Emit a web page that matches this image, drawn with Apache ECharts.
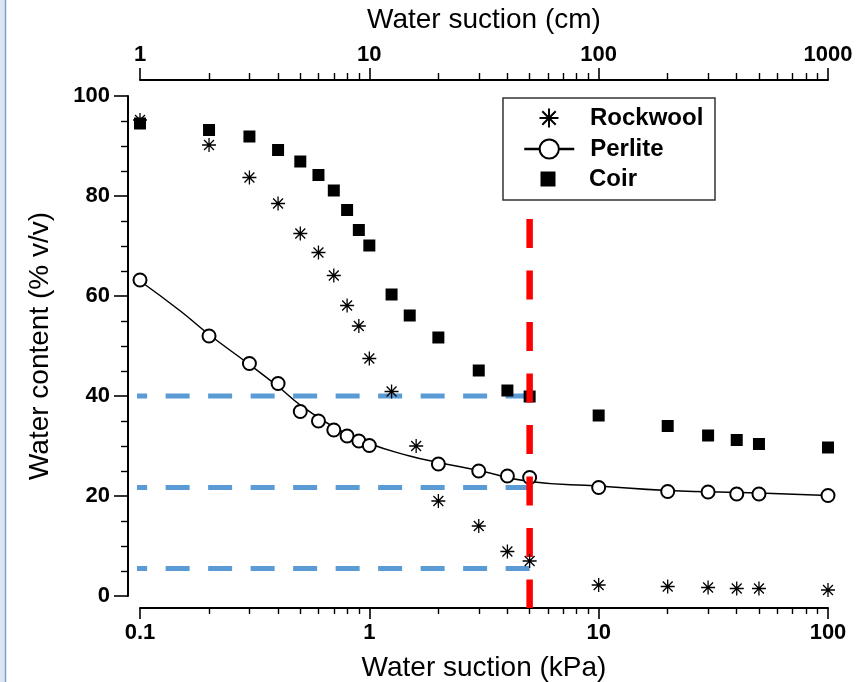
<!DOCTYPE html>
<html><head><meta charset="utf-8">
<script src="https://cdn.jsdelivr.net/npm/echarts@6/dist/echarts.min.js"></script>
<style>html,body{margin:0;padding:0;background:#fff}#c{width:866px;height:682px}</style>
</head><body><div id="c"></div>
<script>
// ---- data ----
const perliteX = [0.1,0.2,0.3,0.4,0.5,0.6,0.7,0.8,0.9,1,2,3,4,5,10,20,30,40,50,100];
const perliteY = [63.2,52,46.5,42.5,36.9,35,33.2,32,31,30.1,26.4,25,24,23.7,21.7,20.9,20.8,20.4,20.4,20.1];
// fitted curve drawn through the perlite points
const perliteFitX = [0.1,0.15,0.2,0.3,0.4,0.5,0.7,1,1.5,2,3,5,10,20,50,100];
const perliteFitY = [63,57,52.3,46.3,41.9,38.2,33.8,30.5,28,26.7,25.1,22.9,22,21.1,20.6,20.1];
const rockwoolX = [0.1,0.2,0.3,0.4,0.5,0.6,0.7,0.8,0.9,1,1.25,1.6,2,3,4,5,10,20,30,40,50,100];
const rockwoolY = [95.2,90.2,83.7,78.5,72.5,68.7,64.1,58.1,54,47.5,40.9,30,19,14,8.9,7,2.2,1.9,1.7,1.5,1.5,1.2];
const coirX = [0.1,0.2,0.3,0.4,0.5,0.6,0.7,0.8,0.9,1,1.25,1.5,2,3,4,5,10,20,30,40,50,100];
const coirY = [94.5,93.2,91.9,89.2,86.9,84.2,81.1,77.2,73.2,70.1,60.3,56.1,51.7,45.1,41.1,39.9,36.1,34,32.1,31.2,30.4,29.7];
const kPaMajor = [0.1,1,10,100];
const kPaMinor = [0.2,0.3,0.4,0.5,0.6,0.7,0.8,0.9,2,3,4,5,6,7,8,9,20,30,40,50,60,70,80,90];
const cmMajor = [1,10,100,1000];
const cmMinor = [2,3,4,5,6,7,8,9,20,30,40,50,60,70,80,90,200,300,400,500,600,700,800,900];
const refLevels = [40, 21.7, 5.5];        // blue dashed horizontal levels
const refLineX = [5, 0.095];              // from 5 kPa back to left edge
const vLineX = 5;                         // red dashed vertical (kPa)
const vLineY = [75.4, -2.4];
const names = ['Rockwool','Perlite','Coir'];

const FONT = '"Liberation Sans", Arial, sans-serif';
const asterisk = 'path://M0,-10L0,10M-10,0L10,0M-7.07,-7.07L7.07,7.07M-7.07,7.07L7.07,-7.07';
const square = 'path://M0,0L10,0L10,10L0,10Z';
const zip = (xs, ys) => xs.map((x, i) => [x, ys[i]]);

const chart = echarts.init(document.getElementById('c'), null, {renderer: 'canvas'});

function xAx(pos, min, max, offset, major, minor, name, majorLen, minorLen, nameGap) {
  const base = {
    type: 'log', logBase: 10, position: pos, min: min, max: max, offset: offset,
    splitLine: {show: false}, minorSplitLine: {show: false}
  };
  const a = Object.assign({}, base, {
    axisLine: {show: true, onZero: false, lineStyle: {color: '#000', width: 2}},
    axisTick: {show: true, inside: false, length: majorLen, customValues: major, lineStyle: {color: '#000', width: 1.6}},
    axisLabel: {show: true, customValues: major, margin: 14, fontSize: 22, fontWeight: 'bold', color: '#000', fontFamily: FONT,
      formatter: v => String(v)},
    name: name, nameLocation: 'middle', nameGap: nameGap,
    nameTextStyle: {fontSize: 28, color: '#000', fontFamily: FONT, fontWeight: 'normal'}
  });
  const b = Object.assign({}, base, {
    axisLine: {show: false, onZero: false},
    axisTick: {show: true, inside: false, length: minorLen, customValues: minor, lineStyle: {color: '#000', width: 1.4}},
    axisLabel: {show: false}
  });
  return [a, b];
}

const xAxes = [].concat(
  xAx('bottom', 0.1, 100, 12, kPaMajor, kPaMinor, 'Water suction (kPa)', 11, 6, 46),
  xAx('top', 1, 1000, 16, cmMajor, cmMinor, 'Water suction (cm)', 12, 7, 46)
);

const series = [];
refLevels.forEach((lv, i) => {
  series.push({
    type: 'line', name: 'ref' + i, xAxisIndex: 0, yAxisIndex: 0,
    data: refLineX.map(x => [x, lv]), symbol: 'none', clip: false, silent: true, z: 1,
    lineStyle: {color: '#5b9bd5', width: 5, type: [24, 18.5]}
  });
});
series.push({
  type: 'scatter', name: 'Coir', data: zip(coirX, coirY), symbol: square, symbolSize: 12, z: 3,
  itemStyle: {color: '#000', opacity: 1}
});
series.push({
  type: 'line', name: 'PerliteFit', data: zip(perliteFitX, perliteFitY), smooth: 0.5, symbol: 'none', z: 4,
  silent: true, lineStyle: {color: '#000', width: 1.5}
});
series.push({
  type: 'line', name: 'Perlite', data: zip(perliteX, perliteY), symbol: 'emptyCircle', symbolSize: 13,
  showSymbol: true, z: 4,
  lineStyle: {color: '#000', width: 0, opacity: 0},
  itemStyle: {color: '#000', borderColor: '#000', borderWidth: 1.3, opacity: 1}
});
series.push({
  type: 'line', name: 'vline', data: vLineY.map(y => [vLineX, y]), symbol: 'none', clip: false, silent: true, z: 5,
  lineStyle: {color: '#ff0000', width: 6.5, type: [29, 22.5]}
});
series.push({
  type: 'scatter', name: 'Rockwool', data: zip(rockwoolX, rockwoolY), symbol: asterisk, symbolSize: 14, z: 6,
  itemStyle: {color: 'rgba(0,0,0,0)', borderColor: '#000', borderWidth: 1.3, opacity: 1}
});

const legTxt = {fontSize: 24, fontWeight: 'bold', color: '#000', fontFamily: FONT, lineHeight: 24, padding: [0, 0, 0, 11]};
const legRows = [118, 149, 179];
const legH = [19, 24, 15];
const legLeft = [538.5, 523, 540.5];
const legends = names.map((n, i) => ({
  data: [n], left: legLeft[i], top: legRows[i] - 12, padding: 0, itemWidth: 50, itemHeight: legH[i],
  selectedMode: false, symbolKeepAspect: true, textStyle: legTxt,
  lineStyle: {width: 2.5, color: '#000', opacity: 1}
}));

chart.setOption({
  backgroundColor: '#fff',
  animation: false,
  textStyle: {fontFamily: FONT},
  grid: {left: 140, right: 38, top: 96, bottom: 86, containLabel: false, outerBoundsMode: 'none'},
  xAxis: xAxes,
  yAxis: {
    type: 'value', min: 0, max: 100, interval: 20, offset: 12,
    axisLine: {show: true, onZero: false, lineStyle: {color: '#000', width: 2}},
    axisTick: {show: true, length: 14, lineStyle: {color: '#000', width: 1.6}},
    minorTick: {show: true, splitNumber: 4, length: 7, lineStyle: {color: '#000', width: 1.4}},
    splitLine: {show: false}, minorSplitLine: {show: false},
    axisLabel: {margin: 18, fontSize: 22, fontWeight: 'bold', color: '#000', fontFamily: FONT},
    name: 'Water content (% v/v)', nameLocation: 'middle', nameGap: 74,
    nameTextStyle: {fontSize: 28, color: '#000', fontFamily: FONT}
  },
  legend: legends,
  graphic: [
    {type: 'rect', shape: {x: 0, y: 0, width: 5, height: 682}, style: {fill: '#dce6f2'}, silent: true},
    {type: 'line', shape: {x1: 5.5, y1: 0, x2: 5.5, y2: 682}, style: {stroke: '#7f9fcf', lineWidth: 1.5}, silent: true},
    {type: 'rect', shape: {x: 503, y: 98, width: 212, height: 102}, style: {fill: 'rgba(0,0,0,0)', stroke: '#333', lineWidth: 1.5}, silent: true, z: 0}
  ],
  series: series
});
</script></body></html>
